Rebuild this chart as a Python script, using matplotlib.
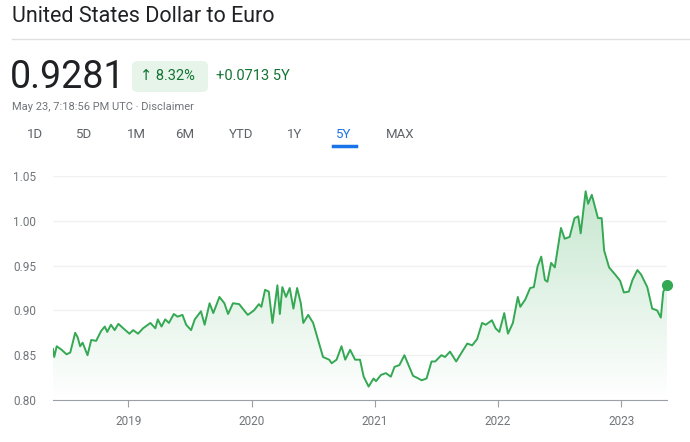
import numpy as np
import matplotlib.pyplot as plt
from matplotlib.patches import FancyBboxPatch
from matplotlib.lines import Line2D

# ---------------------------------------------------------------
# Data (decimal years, USD->EUR rate)
# ---------------------------------------------------------------
years = [2018.39, 2018.40, 2018.42, 2018.46, 2018.50, 2018.53, 2018.57, 2018.59, 2018.61, 2018.63,
         2018.67, 2018.70, 2018.74, 2018.78, 2018.81, 2018.83, 2018.86, 2018.89, 2018.92, 2018.96,
         2019.01, 2019.04, 2019.08, 2019.12, 2019.18, 2019.22, 2019.24, 2019.27, 2019.30, 2019.33,
         2019.37, 2019.40, 2019.44, 2019.47, 2019.51, 2019.54, 2019.59, 2019.62, 2019.66, 2019.69,
         2019.74, 2019.78, 2019.81, 2019.85, 2019.90, 2019.94, 2019.97, 2020.02, 2020.06, 2020.08,
         2020.11, 2020.14, 2020.17, 2020.21, 2020.23, 2020.25, 2020.28, 2020.31, 2020.34, 2020.37,
         2020.40, 2020.42, 2020.46, 2020.50, 2020.54, 2020.58, 2020.63, 2020.65, 2020.69, 2020.73,
         2020.76, 2020.80, 2020.84, 2020.88, 2020.91, 2020.95, 2020.99, 2021.01, 2021.05, 2021.09,
         2021.13, 2021.16, 2021.20, 2021.24, 2021.28, 2021.31, 2021.34, 2021.38, 2021.42, 2021.46,
         2021.49, 2021.54, 2021.57, 2021.61, 2021.66, 2021.70, 2021.75, 2021.79, 2021.83, 2021.87,
         2021.90, 2021.95, 2021.98, 2022.01, 2022.05, 2022.08, 2022.12, 2022.16, 2022.18, 2022.22,
         2022.26, 2022.29, 2022.32, 2022.35, 2022.38, 2022.40, 2022.43, 2022.46, 2022.51, 2022.54,
         2022.58, 2022.62, 2022.65, 2022.67, 2022.71, 2022.73, 2022.76, 2022.81, 2022.84, 2022.86,
         2022.90, 2022.95, 2022.99, 2023.02, 2023.06, 2023.09, 2023.13, 2023.16, 2023.21, 2023.25,
         2023.29, 2023.32, 2023.34, 2023.37]
rates = [0.857, 0.848, 0.860, 0.856, 0.851, 0.853, 0.875, 0.870, 0.860, 0.864,
         0.850, 0.867, 0.866, 0.877, 0.882, 0.876, 0.884, 0.878, 0.885, 0.880,
         0.874, 0.878, 0.874, 0.880, 0.886, 0.880, 0.890, 0.882, 0.890, 0.886,
         0.896, 0.893, 0.895, 0.884, 0.878, 0.890, 0.899, 0.884, 0.908, 0.897,
         0.915, 0.908, 0.896, 0.908, 0.907, 0.900, 0.895, 0.900, 0.907, 0.904,
         0.923, 0.921, 0.886, 0.928, 0.896, 0.926, 0.915, 0.925, 0.902, 0.925,
         0.908, 0.886, 0.895, 0.886, 0.867, 0.848, 0.845, 0.841, 0.845, 0.860,
         0.845, 0.856, 0.845, 0.845, 0.826, 0.815, 0.824, 0.821, 0.828, 0.830,
         0.826, 0.837, 0.839, 0.850, 0.837, 0.827, 0.825, 0.822, 0.824, 0.843,
         0.843, 0.850, 0.848, 0.854, 0.843, 0.852, 0.863, 0.861, 0.868, 0.886,
         0.884, 0.889, 0.880, 0.876, 0.897, 0.874, 0.886, 0.915, 0.904, 0.912,
         0.925, 0.926, 0.949, 0.960, 0.934, 0.932, 0.953, 0.948, 0.992, 0.980,
         0.982, 1.003, 1.005, 0.986, 1.033, 1.019, 1.029, 1.003, 1.003, 0.967,
         0.948, 0.940, 0.933, 0.920, 0.921, 0.934, 0.945, 0.940, 0.926, 0.902,
         0.900, 0.892, 0.921, 0.9281]
year_ticks = [2019, 2020, 2021, 2022, 2023]
y_ticks = [0.80, 0.85, 0.90, 0.95, 1.00, 1.05]
ranges = ["1D", "5D", "1M", "6M", "YTD", "1Y", "5Y", "MAX"]

GREEN = "#34a853"
plt.rcParams['font.family'] = ['Roboto', 'DejaVu Sans']

fig = plt.figure(figsize=(6.9, 4.42), dpi=100)
W, H = 690, 442

def fy(py):
    return 1 - py / H

# ---------------------------------------------------------------
# Header
# ---------------------------------------------------------------
fig.text(12 / W, fy(16), "United States Dollar to Euro", fontsize=15.5, color="#202124", va="center")
fig.add_artist(Line2D([12 / W, 1], [fy(39)] * 2, color="#e0e0e0", lw=1))
fig.text(10 / W, fy(77), "0.9281", fontsize=27, color="#202124", va="center")
fig.add_artist(FancyBboxPatch((132 / W, fy(92)), 76 / W, 31 / H,
                              boxstyle="round,pad=0,rounding_size=0.01",
                              fc="#e6f4ea", ec="none", transform=fig.transFigure))
fig.text(140 / W, fy(76), "\u2191 8.32%", fontsize=10.5, color="#137333", va="center")
fig.text(216 / W, fy(76), "+0.0713 5Y", fontsize=10.5, color="#137333", va="center")
fig.text(12 / W, fy(107), "May 23, 7:18:56 PM UTC \u00b7 Disclaimer", fontsize=8, color="#70757a", va="center")
tab_x = [35, 84, 136, 185, 241, 295, 344, 400]
for x, lab in zip(tab_x, ranges):
    c = "#1a73e8" if lab == "5Y" else "#5f6368"
    fig.text(x / W, fy(135), lab, fontsize=9.5, color=c, ha="center", va="center")
fig.add_artist(Line2D([333 / W, 356 / W], [fy(146)] * 2, color="#1a73e8", lw=2.5))

# ---------------------------------------------------------------
# Chart
# ---------------------------------------------------------------
ax = fig.add_axes([53 / W, fy(400), 614 / W, 224 / H])
x = np.array(years)
y = np.array(rates)
ax.set_xlim(x[0], x[-1])
ax.set_ylim(0.80, 1.05)

grad = np.linspace(0.28, 0.0, 256).reshape(-1, 1)
cmap = plt.matplotlib.colors.LinearSegmentedColormap.from_list("g", ["#ffffff", GREEN])
im = ax.imshow(grad[::-1], extent=[x[0], x[-1], 0.80, y.max()], aspect="auto",
               cmap=cmap, vmin=0, vmax=1, origin="lower", zorder=1)
poly = ax.fill_between(x, y, 0.80, color="none")
im.set_clip_path(poly.get_paths()[0], transform=ax.transData)

ax.plot(x, y, color=GREEN, lw=1.4, zorder=3)
ax.plot(x[-1], y[-1], "o", color=GREEN, ms=7, zorder=4, clip_on=False)

ax.set_yticks(y_ticks)
ax.set_yticklabels([f"{v:.2f}" for v in y_ticks])
ax.set_xticks(year_ticks)
ax.set_xticklabels([str(v) for v in year_ticks])
ax.grid(axis="y", color="#f1f1f1", lw=1)
ax.set_axisbelow(True)
for s in ["top", "right", "left"]:
    ax.spines[s].set_visible(False)
ax.spines["bottom"].set_color("#9aa0a6")
ax.tick_params(axis="y", length=0, labelsize=8.5, labelcolor="#70757a", pad=12)
ax.tick_params(axis="x", length=5, color="#9aa0a6", labelsize=8.5, labelcolor="#70757a", pad=6)

fig.savefig("out.png", dpi=100)
